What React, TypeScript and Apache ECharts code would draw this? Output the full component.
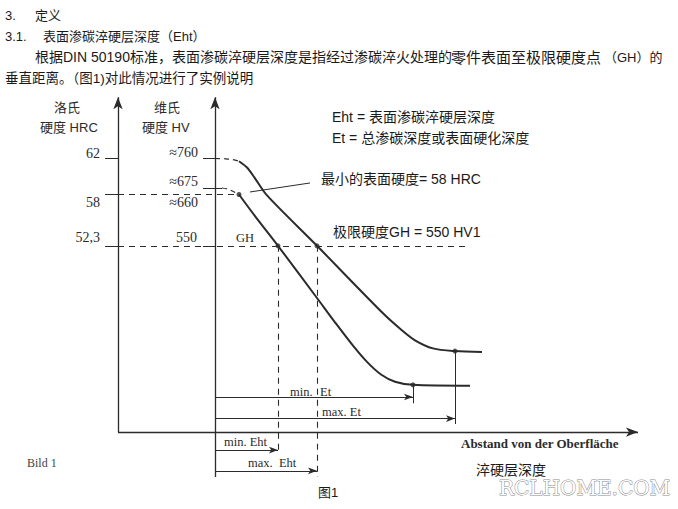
import React, { useEffect, useRef } from "react";
import * as echarts from "echarts";

// Depth from the surface (mm, schematic) and hardness on the HRC scale of the diagram
const upperCurveDepth = [0.12, 0.16, 0.2, 0.26, 0.51, 0.84, 0.93, 1.0, 1.09, 1.2, 1.335];
const upperCurveHRC = [61.7, 61.0, 59.8, 57.9, 52.3, 44.8, 43.0, 41.8, 40.9, 40.6, 40.5];
const upperLeadDepth = [0, 0.05, 0.09, 0.12];
const upperLeadHRC = [62, 61.97, 61.88, 61.7];
const lowerCurveDepth = [0.12, 0.2, 0.315, 0.51, 0.6, 0.69, 0.76, 0.83, 0.9, 0.99, 1.275];
const lowerCurveHRC = [58, 55.6, 52.3, 46.5, 43.8, 41.2, 39.4, 38.0, 37.2, 36.85, 36.75];
const lowerLeadDepth = [0.035, 0.07, 0.12];
const lowerLeadHRC = [58.72, 58.55, 58];

const hrcTicks = [62, 58, 52.3];
const hrcTickLabels = ["62", "58", "52,3"];
const hvTickLabels = ["≈760", "≈675", "≈660", "550"];
const hv675HRC = 58.72;

const surfaceMinHRC = 58;
const limitHRC = 52.3;
const minEht = 0.315;
const maxEht = 0.51;
const minEt = 0.99;
const maxEt = 1.2;
const minEtHRC = 36.85;
const maxEtHRC = 40.6;

// layout (data units of the diagram)
const HRC_AXIS_X = -0.485;
const TICK_LEFT_HRC = -0.55;
const TICK_LEFT_HV = -0.06;
const AXIS_TOP = 68.8;
const BASE_Y = 31.6;
const HV_AXIS_BOTTOM = 26.6;
const X_AXIS_END = 2.115;
const LVL_MIN_ET = 35.5;
const LVL_MAX_ET = 33.1;
const LVL_MIN_EHT = 29.6;
const LVL_MAX_EHT = 27.3;

const INK = "#2b2b2b";
const SERIF = "'Liberation Serif', 'DejaVu Serif', serif";
const CJK = "'Liberation Sans', 'Noto Sans CJK SC', sans-serif";

function zip(a: number[], b: number[]) {
  return a.map((v, i) => [v, b[i]]);
}

function seg(x1: number, y1: number, x2: number, y2: number) {
  return [{ coord: [x1, y1] }, { coord: [x2, y2] }];
}

function txt(
  text: string,
  x: number,
  y: number,
  opts: { size?: number; family?: string; align?: string; weight?: string; fill?: string } = {}
) {
  return {
    type: "text",
    x,
    y,
    silent: true,
    style: {
      text,
      fontSize: opts.size ?? 13,
      fontFamily: opts.family ?? CJK,
      fontWeight: opts.weight ?? "normal",
      fill: opts.fill ?? "#1a1a1a",
      textAlign: opts.align ?? "left",
      textVerticalAlign: "middle",
    },
  };
}

function markLineSeries(name: string, data: any[], lineStyle: any, symbol: any, symbolSize: any) {
  return {
    name,
    type: "line",
    data: [],
    silent: true,
    markLine: {
      silent: true,
      animation: false,
      symbol,
      symbolSize,
      label: { show: false },
      emphasis: { disabled: true },
      lineStyle,
      data,
    },
  };
}

export default function App() {
  const ref = useRef<HTMLDivElement>(null);

  useEffect(() => {
    if (!ref.current) return;
    const chart = echarts.init(ref.current, undefined, { renderer: "svg" });

    const axesArrows = [
      seg(HRC_AXIS_X, BASE_Y, HRC_AXIS_X, AXIS_TOP),
      seg(0, HV_AXIS_BOTTOM, 0, AXIS_TOP),
      seg(HRC_AXIS_X, BASE_Y, X_AXIS_END, BASE_Y),
    ];
    const dimArrows = [
      seg(0, LVL_MIN_ET, minEt, LVL_MIN_ET),
      seg(0, LVL_MAX_ET, maxEt, LVL_MAX_ET),
      seg(0, LVL_MIN_EHT, minEht, LVL_MIN_EHT),
      seg(0, LVL_MAX_EHT, maxEht, LVL_MAX_EHT),
    ];
    const solidLines = [
      seg(TICK_LEFT_HRC, hrcTicks[0], HRC_AXIS_X, hrcTicks[0]),
      seg(TICK_LEFT_HRC, hrcTicks[1], HRC_AXIS_X, hrcTicks[1]),
      seg(TICK_LEFT_HRC, hrcTicks[2], HRC_AXIS_X, hrcTicks[2]),
      seg(TICK_LEFT_HV, hrcTicks[0], 0, hrcTicks[0]),
      seg(TICK_LEFT_HV, hv675HRC, lowerLeadDepth[0], hv675HRC),
      seg(TICK_LEFT_HV, limitHRC, 0, limitHRC),
      seg(minEt, minEtHRC, minEt, LVL_MIN_ET - 0.7),
      seg(maxEt, maxEtHRC, maxEt, LVL_MAX_ET - 0.6),
      seg(0.175, 58.28, 0.475, 59.28),
    ];
    const dashedLines = [
      seg(HRC_AXIS_X, surfaceMinHRC, lowerCurveDepth[0], surfaceMinHRC),
      seg(HRC_AXIS_X, limitHRC, 1.26, limitHRC),
      seg(minEht, limitHRC, minEht, LVL_MIN_EHT - 0.4),
      seg(maxEht, limitHRC, maxEht, HV_AXIS_BOTTOM),
    ];

    const graphics: any[] = [
      txt("3.", 5, 15),
      txt("定义", 35, 15),
      txt("3.1.", 5, 36),
      txt("表面渗碳淬硬层深度（Eht）", 43, 36),
      txt("根据DIN 50190标准，表面渗碳淬硬层深度是指经过渗碳淬火处理的", 35, 57, { size: 14 }),
      txt("零件表面至极限硬度点", 451, 57, { size: 15 }),
      txt("（GH）的", 604, 57, { size: 13 }),
      txt("垂直距离。（图1)对此情况进行了实例说明", 5, 78, { size: 13.5 }),

      txt("洛氏", 67, 107, { align: "center", fill: INK }),
      txt("硬度 HRC", 40, 127, { fill: INK }),
      txt("维氏", 167, 107, { align: "center", fill: INK }),
      txt("硬度 HV", 142, 127, { fill: INK }),

      txt(hrcTickLabels[0], 100, 153, { family: SERIF, align: "right", fill: INK, size: 14 }),
      txt(hrcTickLabels[1], 100, 202, { family: SERIF, align: "right", fill: INK, size: 14 }),
      txt(hrcTickLabels[2], 100, 237, { family: SERIF, align: "right", fill: INK, size: 14 }),
      txt(hvTickLabels[0], 198, 152, { family: SERIF, align: "right", fill: INK, size: 14 }),
      txt(hvTickLabels[1], 198, 181, { family: SERIF, align: "right", fill: INK, size: 14 }),
      txt(hvTickLabels[2], 198, 202, { family: SERIF, align: "right", fill: INK, size: 14 }),
      txt(hvTickLabels[3], 197, 237, { family: SERIF, align: "right", fill: INK, size: 14 }),
      txt("GH", 236, 238, { family: SERIF, size: 12.5, fill: INK }),

      txt("Eht = 表面渗碳淬硬层深度", 332, 117, { size: 14 }),
      txt("Et = 总渗碳深度或表面硬化深度", 332, 138, { size: 14 }),
      txt("最小的表面硬度= 58 HRC", 321, 179, { size: 14 }),
      txt("极限硬度GH = 550 HV1", 333, 232, { size: 14 }),

      txt("min.", 290, 392, { family: SERIF, size: 12.5, fill: INK }),
      txt("Et", 320, 392, { family: SERIF, size: 12.5, fill: INK }),
      txt("max. Et", 322, 412, { family: SERIF, size: 12.5, fill: INK }),
      txt("min. Eht", 224, 442, { family: SERIF, size: 12.5, fill: INK }),
      txt("max.  Eht", 248, 463, { family: SERIF, size: 12.5, fill: INK }),
      txt("Abstand von der Oberfläche", 461, 443, { family: SERIF, size: 13, weight: "bold", fill: INK }),
      txt("Bild 1", 27, 463, { family: SERIF, size: 12, fill: "#444" }),
      txt("淬硬层深度", 476, 470, { size: 14 }),
      txt("图1", 318, 492, { size: 13 }),
      {
        type: "text",
        x: 499,
        y: 488,
        silent: true,
        style: {
          text: "RCLHOME.COM",
          fontSize: 20,
          fontFamily: "'DejaVu Serif', 'Liberation Serif', serif",
          fill: "#ffffff",
          stroke: "#8a8a8a",
          lineWidth: 1,
          textAlign: "left",
          textVerticalAlign: "middle",
        },
      },
    ];

    chart.setOption({
      animation: false,
      backgroundColor: "#ffffff",
      grid: { left: 0, right: 0, top: 0, bottom: 0 },
      xAxis: { type: "value", min: -1.075, max: 2.315, show: false },
      yAxis: { type: "value", min: 23.056, max: 79.611, show: false },
      series: [
        {
          name: "upper",
          type: "line",
          data: zip(upperCurveDepth, upperCurveHRC),
          smooth: 0.3,
          showSymbol: false,
          silent: true,
          lineStyle: { color: INK, width: 2 },
        },
        {
          name: "upperLead",
          type: "line",
          data: zip(upperLeadDepth, upperLeadHRC),
          smooth: 0.4,
          showSymbol: false,
          silent: true,
          lineStyle: { color: INK, width: 1.2, type: [5, 4] },
        },
        {
          name: "lower",
          type: "line",
          data: zip(lowerCurveDepth, lowerCurveHRC),
          smooth: 0.3,
          showSymbol: false,
          silent: true,
          lineStyle: { color: INK, width: 2 },
        },
        {
          name: "lowerLead",
          type: "line",
          data: zip(lowerLeadDepth, lowerLeadHRC),
          smooth: 0.4,
          showSymbol: false,
          silent: true,
          lineStyle: { color: INK, width: 1.2, type: [5, 4] },
        },
        {
          name: "points",
          type: "scatter",
          silent: true,
          symbolSize: 5,
          itemStyle: { color: INK },
          data: [
            [lowerCurveDepth[0], surfaceMinHRC],
            [minEht, limitHRC],
            [maxEht, limitHRC],
            [minEt, minEtHRC],
            [maxEt, maxEtHRC],
          ],
        },
        markLineSeries("axes", axesArrows, { color: INK, width: 1.3, type: "solid" }, ["none", "arrow"], [7, 12]),
        markLineSeries("dims", dimArrows, { color: INK, width: 1, type: "solid" }, ["none", "arrow"], [5, 9]),
        markLineSeries("solid", solidLines, { color: INK, width: 1, type: "solid" }, ["none", "none"], 0),
        markLineSeries("dashed", dashedLines, { color: INK, width: 1.1, type: [6, 5] }, ["none", "none"], 0),
      ],
      graphic: { elements: graphics },
    });

    return () => chart.dispose();
  }, []);

  return (
    <div
      ref={ref}
      style={{ position: "absolute", left: 0, top: 0, width: 678, height: 509, background: "#fff" }}
    />
  );
}
